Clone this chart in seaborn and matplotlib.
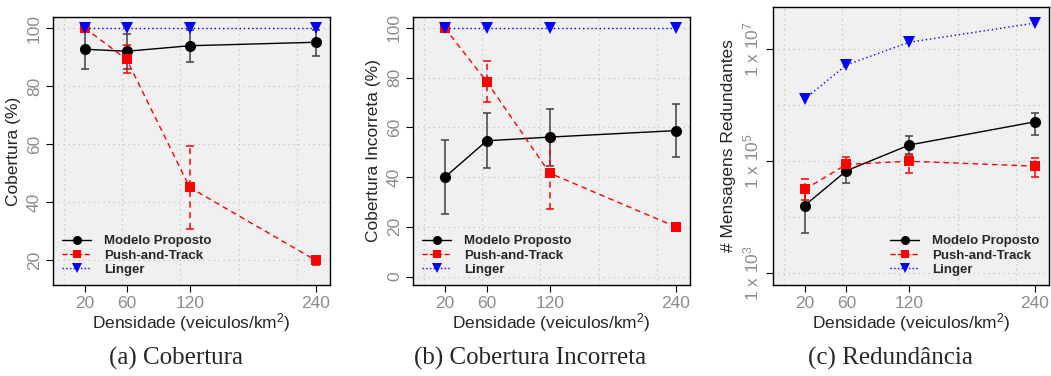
import numpy as np
import pandas as pd
import matplotlib
matplotlib.use("Agg")
import matplotlib.pyplot as plt
import seaborn as sns
from matplotlib.lines import Line2D

# ---------------- data ----------------
densidade = [20, 60, 120, 240]
series = ["Modelo Proposto", "Push-and-Track", "Linger"]

cob_modelo = [92.7, 92.0, 93.9, 95.1]
cob_modelo_lo = [86.0, 86.0, 88.2, 90.5]
cob_modelo_hi = [99.4, 98.0, 99.3, 99.2]
cob_pt = [100.0, 89.2, 45.1, 20.0]
cob_pt_lo = [100.0, 84.5, 30.9, 18.5]
cob_pt_hi = [100.0, 94.3, 59.4, 21.5]
cob_linger = [100.0, 100.0, 100.0, 100.0]

inc_modelo = [39.9, 54.6, 56.1, 58.7]
inc_modelo_lo = [25.0, 43.6, 44.6, 48.0]
inc_modelo_hi = [54.9, 65.9, 67.3, 69.4]
inc_pt = [100.0, 78.4, 41.6, 20.0]
inc_pt_lo = [100.0, 70.1, 27.1, 19.0]
inc_pt_hi = [100.0, 86.9, 56.0, 21.0]
inc_linger = [100.0, 100.0, 100.0, 100.0]

red_modelo = [1.6e4, 6.7e4, 1.93e5, 5.0e5]
red_modelo_lo = [5.2e3, 4.0e4, 1.3e5, 2.9e5]
red_modelo_hi = [2.7e4, 1.0e5, 2.8e5, 7.2e5]
red_pt = [3.1e4, 8.7e4, 9.9e4, 8.1e4]
red_pt_lo = [2.0e4, 6.3e4, 6.2e4, 5.1e4]
red_pt_hi = [4.7e4, 1.2e5, 1.33e5, 1.12e5]
red_linger = [1.28e6, 5.2e6, 1.32e7, 2.9e7]

x_ticks = [20, 60, 120, 240]
x_grid = [0, 55.5, 111, 166.5, 222]

# ---------------- style ----------------
sns.set_style("white")
plt.rcParams["font.family"] = ["Liberation Sans", "DejaVu Sans"]
plt.rcParams["mathtext.fontset"] = "custom"
plt.rcParams["mathtext.rm"] = "Liberation Sans"
plt.rcParams["mathtext.it"] = "Liberation Sans"

colors = {"Modelo Proposto": "black", "Push-and-Track": "#ff0000", "Linger": "#0000ff"}
markers = {"Modelo Proposto": "o", "Push-and-Track": "s", "Linger": "v"}
msizes = {"Modelo Proposto": 8, "Push-and-Track": 7, "Linger": 8.5}
ecolors = {"Modelo Proposto": "#404040", "Push-and-Track": "#ff0000"}
tick_grey = "#8c8c8c"

W, H = 1051, 376
fig = plt.figure(figsize=(W / 100, H / 100), dpi=100)


def ax_rect(l, r, t, b):
    return [l / W, 1 - b / H, (r - l) / W, (b - t) / H]


def panel(ax, vals, errs, ylim, yticks, yticklabels, ylabel, logy=False, legend_loc="lower left",
          hgrid=None):
    ax.set_facecolor("#f0f0f0")
    if logy:
        ax.set_yscale("log")
    # grid
    for gx in x_grid:
        ax.axvline(gx, color="#c4c4c4", lw=0.9, ls=(0, (1, 3)), zorder=0)
    for gy in (hgrid if hgrid is not None else yticks):
        ax.axhline(gy, color="#c4c4c4", lw=0.9, ls=(0, (1, 3)), zorder=0)

    rows = []
    for s, v in zip(series, vals):
        for d, y in zip(densidade, v):
            rows.append({"Densidade": d, "valor": y, "serie": s})
    df = pd.DataFrame(rows)

    # error bars
    for s in ["Modelo Proposto", "Push-and-Track"]:
        lo, hi = errs[s]
        v = vals[series.index(s)]
        yerr = [np.array(v) - np.array(lo), np.array(hi) - np.array(v)]
        eb = ax.errorbar(densidade, v, yerr=yerr, fmt="none", ecolor=ecolors[s], elinewidth=1.1,
                         capsize=3, capthick=1.1, zorder=2 + series.index(s))
        if s == "Push-and-Track":
            for c in eb[2]:
                c.set_linestyle((0, (4, 3)))

    for i, s in enumerate(series):
        sub = df[df["serie"] == s]
        sns.lineplot(data=sub, x="Densidade", y="valor", ax=ax, color=colors[s], marker=markers[s],
                     markersize=msizes[s], markeredgewidth=0, lw=1.0,
                     linestyle="-" if s == "Modelo Proposto" else ("--" if s == "Push-and-Track" else ":"),
                     zorder=3 + i, legend=False, errorbar=None)
    for i, line in enumerate(ax.get_lines()[-3:]):
        s = series[i]
        if s == "Push-and-Track":
            line.set_dashes((4, 3))
        elif s == "Linger":
            line.set_dashes((1, 2))

    ax.set_xlim(-10.2, 253.6)
    ax.set_ylim(*ylim)
    ax.set_xticks(x_ticks)
    ax.set_xticklabels([str(t) for t in x_ticks])
    ax.set_yticks(yticks)
    ax.set_yticklabels(yticklabels, rotation=90, va="center")
    ax.minorticks_off()
    ax.tick_params(axis="both", colors="black", labelcolor=tick_grey, labelsize=12.5,
                   length=5, width=0.8, direction="out", left=True, bottom=True, pad=3)
    for sp in ax.spines.values():
        sp.set_color("black")
        sp.set_linewidth(1.0)
    ax.set_xlabel("Densidade (veiculos/km$^2$)", fontsize=12.5, labelpad=0)
    ax.set_ylabel(ylabel, fontsize=12.5, labelpad=4)

    handles = [Line2D([0], [0], color=colors[s], marker=markers[s],
                      markersize=6.5 if s != "Push-and-Track" else 6,
                      markeredgewidth=0, lw=1.0,
                      linestyle="-" if s == "Modelo Proposto" else ("--" if s == "Push-and-Track" else ":"))
               for s in series]
    ax.legend(handles, series, loc=legend_loc, frameon=False, prop={"weight": "bold", "size": 9.5},
              handlelength=2.2, handletextpad=1.0, labelspacing=0.15, borderaxespad=0.3)
    return ax


ax1 = fig.add_axes(ax_rect(53, 330, 17, 285))
panel(ax1, [cob_modelo, cob_pt, cob_linger],
      {"Modelo Proposto": (cob_modelo_lo, cob_modelo_hi), "Push-and-Track": (cob_pt_lo, cob_pt_hi)},
      (11.5, 103.8), [20, 40, 60, 80, 100], ["20", "40", "60", "80", "100"], "Cobertura (%)")

ax2 = fig.add_axes(ax_rect(413, 690, 17, 285))
panel(ax2, [inc_modelo, inc_pt, inc_linger],
      {"Modelo Proposto": (inc_modelo_lo, inc_modelo_hi), "Push-and-Track": (inc_pt_lo, inc_pt_hi)},
      (-3.4, 104.4), [0, 20, 40, 60, 80, 100], ["0", "20", "40", "60", "80", "100"],
      "Cobertura Incorreta (%)")

ax3 = fig.add_axes(ax_rect(773, 1049, 7, 285))
panel(ax3, [red_modelo, red_pt, red_linger],
      {"Modelo Proposto": (red_modelo_lo, red_modelo_hi), "Push-and-Track": (red_pt_lo, red_pt_hi)},
      (10 ** 2.786, 10 ** 7.75), [1e3, 1e5, 1e7],
      [r"1 x $10^{3}$", r"1 x $10^{5}$", r"1 x $10^{7}$"], "# Mensagens Redundantes", logy=True,
      legend_loc="lower right", hgrid=[1e3, 1e4, 1e5, 1e6, 1e7])

caps = [("(a) Cobertura", 176), ("(b) Cobertura Incorreta", 530), ("(c) Redundância", 890)]
for txt, cx in caps:
    fig.text(cx / W, 1 - 358 / H, txt, ha="center", va="center", fontsize=18,
             family=["Liberation Serif", "DejaVu Serif"])

fig.savefig("out.png", dpi=100)
